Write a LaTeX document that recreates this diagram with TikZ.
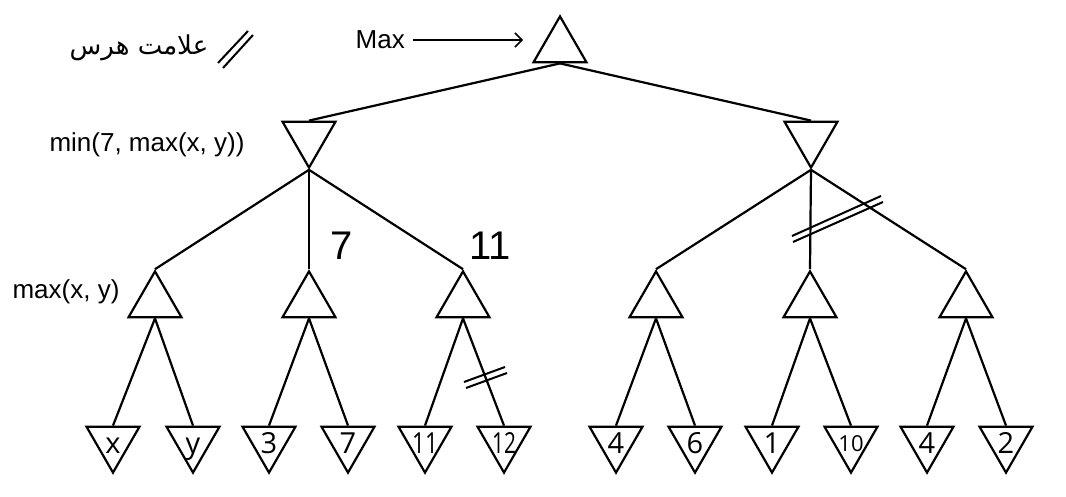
\documentclass[tikz,border=0pt]{standalone}
\usepackage{fontspec}
\setmainfont{Liberation Sans}
\newfontfamily\leaffont{Open Sans}
\newfontfamily\arabicfont[Script=Arabic]{DejaVu Sans}
\TeXXeTstate=1
\usetikzlibrary{shapes.geometric,arrows.meta}
\begin{document}
\begin{tikzpicture}[x=1pt,y=-1pt,
  tri/.style={regular polygon,regular polygon sides=3,draw,line width=2.2pt,
    minimum size=61.2pt,inner sep=0pt,line join=miter},
  maxn/.style={tri},
  minn/.style={tri,regular polygon rotate=180},
  leaf/.style={minn,label={[font=\leaffont\fontsize{29}{31}\selectfont,inner sep=0pt,
    text height=21pt,text depth=0pt,yshift=-1pt]center:#1}},
  edge/.style={line width=2.2pt},
  prune/.style={line width=2pt},
  lbl/.style={font=\fontsize{26}{28}\selectfont,inner sep=0pt},
  big/.style={font=\fontsize{40}{42}\selectfont,inner sep=0pt}]
\useasboundingbox (0,0) rectangle (1066,497);
% nodes
\node[maxn] (root) at (560,47) {};
\node[minn] (mL) at (309,137) {};
\node[minn] (mR) at (811,137) {};
\node[maxn] (a1) at (155,302) {};
\node[maxn] (a2) at (309,302) {};
\node[maxn] (a3) at (463,302) {};
\node[maxn] (a4) at (656,302) {};
\node[maxn] (a5) at (810,302) {};
\node[maxn] (a6) at (966,302) {};
\node[leaf={x}] (l1) at (113,442) {};
\node[leaf={y}] (l2) at (193,442) {};
\node[leaf={3}] (l3) at (269,442) {};
\node[leaf={7}] (l4) at (348,442) {};
\node[leaf={\scalebox{0.78}[1]{11}}] (l5) at (425,442) {};
\node[leaf={\scalebox{0.72}[1]{12}}] (l6) at (504,442) {};
\node[leaf={4}] (l7) at (616,442) {};
\node[leaf={6}] (l8) at (695,442) {};
\node[leaf={1}] (l9) at (772,442) {};
\node[leaf={\raisebox{2pt}{\fontsize{22}{24}\selectfont 10}}] (l10) at (851,442) {};
\node[leaf={4}] (l11) at (927,442) {};
\node[leaf={2}] (l12) at (1006,442) {};
% edges
\draw[edge] (root.south) -- (mL.north);
\draw[edge] (root.south) -- (mR.north);
\foreach \c in {a1,a2,a3} \draw[edge] (mL.south) -- (\c.north);
\foreach \c in {a4,a5,a6} \draw[edge] (mR.south) -- (\c.north);
\draw[edge] (a1.south) -- (l1.north); \draw[edge] (a1.south) -- (l2.north);
\draw[edge] (a2.south) -- (l3.north); \draw[edge] (a2.south) -- (l4.north);
\draw[edge] (a3.south) -- (l5.north); \draw[edge] (a3.south) -- (l6.north);
\draw[edge] (a4.south) -- (l7.north); \draw[edge] (a4.south) -- (l8.north);
\draw[edge] (a5.south) -- (l9.north); \draw[edge] (a5.south) -- (l10.north);
\draw[edge] (a6.south) -- (l11.north); \draw[edge] (a6.south) -- (l12.north);
% labels
\node[lbl,anchor=east] (maxlbl) at (405,40) {Max};
\coordinate (maxend) at (523,40);
\draw[line width=1.5pt,-{Straight Barb[length=7pt,width=14pt,line width=1.5pt]},shorten <=8pt] (maxlbl.east) -- (maxend);
\node[lbl] (minlbl) at (147,145) {min(7, max(x, y))};
\node[lbl] (maxxy) at (66,292) {max(x, y)};
\node[big] (seven) at (342,246) {7};
\node[big] (eleven) at (490,246) {11};
\node[inner sep=0pt,font=\fontsize{26}{28}\selectfont] (legend) at (139,48) {\arabicfont\beginR علامت هرس\endR};
% pruning marks
\draw[prune] (218,63) -- (248,31);
\draw[prune] (223,68) -- (253,35);
\draw[prune] (464,382) -- (505,367);
\draw[prune] (466,388) -- (507,373);
\draw[prune] (792,236) -- (881,196);
\draw[prune] (793,242) -- (883,202);
\end{tikzpicture}
\end{document}
